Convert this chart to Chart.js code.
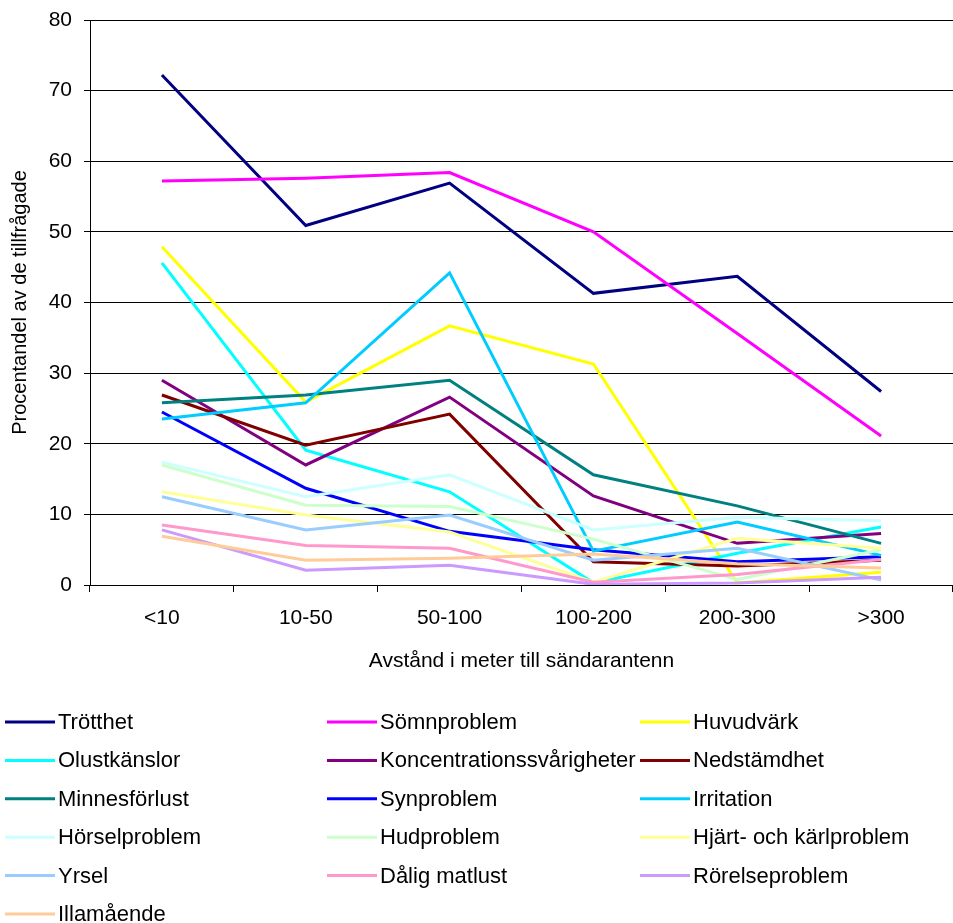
<!DOCTYPE html>
<html>
<head>
<meta charset="utf-8">
<script src="https://cdn.jsdelivr.net/npm/chart.js@4"></script>
<style>
  html, body { margin: 0; padding: 0; background: #fff; }
  #wrap { width: 953px; height: 923px; }
</style>
</head>
<body>
<div id="wrap"><canvas id="c" width="953" height="923"></canvas></div>
<script>
// Distance bands to the transmitter antenna
const categories = ['<10', '10-50', '50-100', '100-200', '200-300', '>300'];
const yTicks = [0, 10, 20, 30, 40, 50, 60, 70, 80];

// Share of respondents (%) reporting each symptom, per distance band
const trotthet        = [72.2, 50.9, 56.9, 41.3, 43.7, 27.4];
const somnproblem     = [57.2, 57.6, 58.4, 50.0, 35.6, 21.1];
const huvudvark       = [47.9, 25.9, 36.7, 31.3, 0.3, 1.8];
const olustkanslor    = [45.6, 19.1, 13.2, 0.3, 4.5, 8.2];
const koncentration   = [29.0, 17.0, 26.6, 12.6, 5.9, 7.3];
const nedstamdhet     = [26.9, 19.8, 24.2, 3.3, 2.7, 3.5];
const minnesforlust   = [25.8, 26.9, 29.0, 15.6, 11.2, 5.9];
const synproblem      = [24.5, 13.7, 7.6, 5.0, 3.3, 4.0];
const irritation      = [23.5, 25.8, 44.2, 4.8, 8.9, 4.2];
const horselproblem   = [17.4, 12.5, 15.6, 7.8, 9.6, 9.1];
const hudproblem      = [17.0, 11.3, 11.1, 6.5, 0.8, 5.0];
const hjartKarl       = [13.2, 9.9, 7.5, 0.4, 6.6, 5.2];
const yrsel           = [12.5, 7.8, 9.9, 3.5, 5.2, 0.7];
const daligMatlust    = [8.5, 5.6, 5.2, 0.4, 1.5, 3.6];
const rorelseproblem  = [7.8, 2.1, 2.8, 0.1, 0.3, 1.1];
const illamaende      = [6.9, 3.5, 3.8, 4.4, 3.0, 2.4];

const seriesNames = ['Trötthet', 'Sömnproblem', 'Huvudvärk', 'Olustkänslor',
  'Koncentrationssvårigheter', 'Nedstämdhet', 'Minnesförlust', 'Synproblem',
  'Irritation', 'Hörselproblem', 'Hudproblem', 'Hjärt- och kärlproblem',
  'Yrsel', 'Dålig matlust', 'Rörelseproblem', 'Illamående'];
const seriesValues = [trotthet, somnproblem, huvudvark, olustkanslor,
  koncentration, nedstamdhet, minnesforlust, synproblem, irritation,
  horselproblem, hudproblem, hjartKarl, yrsel, daligMatlust, rorelseproblem,
  illamaende];
const seriesColors = ['#000080', '#FF00FF', '#FFFF00', '#00FFFF',
  '#800080', '#800000', '#008080', '#0000FF', '#00CCFF',
  '#CCFFFF', '#CCFFCC', '#FFFF99', '#99CCFF', '#FF99CC', '#CC99FF',
  '#FFCC99'];

const FONT = 'Liberation Sans, Arial, sans-serif';
const N = seriesNames.length;

const datasets = seriesNames.map((name, i) => ({
  label: name,
  data: seriesValues[i],
  borderColor: seriesColors[i],
  backgroundColor: seriesColors[i],
  borderWidth: 3,
  pointRadius: 0,
  tension: 0,
  fill: false,
  order: N - i            // later series are painted over earlier ones
}));

// Legend in three columns beneath the plot
const legendBelow = {
  id: 'legendBelow',
  afterDraw(chart) {
    const ctx = chart.ctx;
    const colX = [5, 327, 640];
    const rowY0 = 722, rowGap = 38.4;
    ctx.save();
    ctx.font = '22px ' + FONT;
    ctx.textBaseline = 'middle';
    ctx.textAlign = 'left';
    chart.data.datasets.forEach((ds, i) => {
      const x = colX[i % 3];
      const y = rowY0 + Math.floor(i / 3) * rowGap;
      ctx.strokeStyle = ds.borderColor;
      ctx.lineWidth = 3;
      ctx.beginPath();
      ctx.moveTo(x, y);
      ctx.lineTo(x + 50, y);
      ctx.stroke();
      ctx.fillStyle = '#000';
      ctx.fillText(ds.label, x + 53, y + 1);
    });
    ctx.restore();
  }
};

new Chart(document.getElementById('c'), {
  type: 'line',
  data: { labels: categories, datasets },
  plugins: [legendBelow],
  options: {
    responsive: false,
    animation: false,
    devicePixelRatio: 1,
    layout: { padding: { top: 20, right: -3, bottom: 238, left: 0 } },
    plugins: { legend: { display: false }, tooltip: { enabled: false } },
    scales: {
      x: {
        type: 'category',
        offset: true,
        grid: { offset: true, drawOnChartArea: false, drawTicks: true,
                tickLength: 7, color: '#000', lineWidth: 1 },
        border: { display: true, color: '#000', width: 1 },
        ticks: { color: '#000', font: { family: FONT, size: 21 }, padding: 14,
                 maxRotation: 0, autoSkip: false },
        title: { display: true, text: 'Avstånd i meter till sändarantenn',
                 color: '#000', font: { family: FONT, size: 21 },
                 padding: { top: 0, bottom: 11 } },
        afterFit(scale) { scale.height = 100; }
      },
      y: {
        min: 0, max: 80,
        afterBuildTicks(scale) { scale.ticks = yTicks.map(v => ({ value: v })); },
        grid: { color: '#000', lineWidth: 1, tickLength: 6, drawTicks: true },
        border: { display: true, color: '#000', width: 1 },
        ticks: { color: '#000', font: { family: FONT, size: 21 }, padding: 12 },
        title: { display: true, text: 'Procentandel av de tillfrågade',
                 color: '#000', font: { family: FONT, size: 20 },
                 padding: { top: 8, bottom: 0 } },
        afterFit(scale) {
          scale.width = 90;
          scale.paddingTop = 0;
          scale.paddingBottom = 0;
        }
      }
    }
  }
});
</script>
</body>
</html>
